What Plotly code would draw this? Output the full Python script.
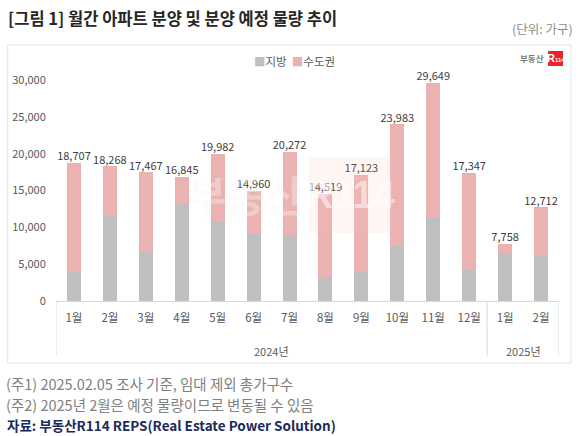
import plotly.graph_objects as go

# 월별 분양 물량 (가구)
months = ['1월', '2월', '3월', '4월', '5월', '6월', '7월', '8월', '9월', '10월', '11월', '12월', '1월', '2월']
years = ['2024년'] * 12 + ['2025년'] * 2
totals = [18707, 18268, 17467, 16845, 19982, 14960, 20272, 14519, 17123, 23983, 29649, 17347, 7758, 12712]
jibang = [4000, 11500, 6650, 13150, 10700, 9150, 8900, 3200, 3900, 7400, 11200, 4200, 6550, 6050]
sudogwon = [t - j for t, j in zip(totals, jibang)]

FONT = 'Noto Sans CJK KR'
GREY, PINK = '#bfbfbf', '#ebb2b2'
W, H = 580, 436
L, R, T, B = 54, 21, 80, 135


def px(x):
    return (x - L) / (W - L - R)


def py(y):
    return (H - B - y) / (H - T - B)


xs = list(range(len(months)))

fig = go.Figure()
fig.add_trace(go.Bar(x=xs, y=jibang, name='지방', marker=dict(color=GREY, line=dict(width=0))))
fig.add_trace(go.Bar(x=xs, y=sudogwon, name='수도권', marker=dict(color=PINK, line=dict(width=0))))
fig.add_trace(go.Scatter(
    x=xs, y=totals, mode='text', text=[f'{v:,}' for v in totals],
    textposition='top center', textfont=dict(size=11, color='#404040', family=FONT),
    showlegend=False, hoverinfo='skip', cliponaxis=False))

fig.update_layout(
    width=W, height=H,
    margin=dict(l=L, r=R, t=T, b=B),
    barmode='stack', bargap=0.61,
    paper_bgcolor='white', plot_bgcolor='white',
    font=dict(family=FONT, color='#595959', size=11),
    showlegend=False,
    xaxis=dict(range=[-0.5, len(months) - 0.5], tickmode='array', tickvals=xs, ticktext=months,
               showline=True, linecolor='#d9d9d9', linewidth=1, showgrid=False, zeroline=False,
               ticks='outside', ticklen=6, tickcolor='rgba(0,0,0,0)',
               tickfont=dict(size=11.5, color='#595959')),
    yaxis=dict(range=[0, 30000], tickvals=[0, 5000, 10000, 15000, 20000, 25000, 30000],
               tickformat=',', showgrid=False, zeroline=False, showline=False,
               ticks='outside', ticklen=7, tickcolor='rgba(0,0,0,0)',
               tickfont=dict(size=11, color='#595959')),
)

shapes = []
# chart box
shapes.append(dict(type='rect', xref='paper', yref='paper', x0=px(5.5), x1=px(571), y0=py(363), y1=py(45),
                   line=dict(color='#e3e3e3', width=1), fillcolor='rgba(0,0,0,0)', layer='below'))
# year group dividers
for xv in [-0.5, 11.5, len(months) - 0.5]:
    shapes.append(dict(type='line', xref='x', yref='paper', x0=xv, x1=xv, y0=py(301), y1=py(356),
                       line=dict(color='#d9d9d9', width=1)))
# watermark box
shapes.append(dict(type='rect', xref='paper', yref='paper', x0=px(308), x1=px(392), y0=py(233), y1=py(157),
                   line=dict(width=0), fillcolor='rgba(255,185,185,0.15)', layer='above'))
# logo box
shapes.append(dict(type='rect', xref='paper', yref='paper', x0=px(548), x1=px(563), y0=py(66), y1=py(51),
                   line=dict(width=0), fillcolor='#e8232e', layer='above'))
fig.update_layout(shapes=shapes)

ann = []
# year labels
for yr in ['2024년', '2025년']:
    idx = [i for i, v in enumerate(years) if v == yr]
    ann.append(dict(x=(idx[0] + idx[-1]) / 2, y=py(351), xref='x', yref='paper', text=yr,
                    showarrow=False, font=dict(size=11, color='#595959'), yanchor='middle'))
legend_text = (f'<span style="color:{GREY}">■</span>지방  '
               f'<span style="color:{PINK}">■</span>수도권')
ann += [
    dict(x=px(293), y=py(61), xref='paper', yref='paper', xanchor='center', yanchor='middle', showarrow=False,
         text=legend_text, font=dict(size=11.5, color='#595959')),
    dict(x=px(4), y=py(18), xref='paper', yref='paper', xanchor='left', yanchor='middle', showarrow=False,
         text='<b>[그림 1] 월간 아파트 분양 및 분양 예정 물량 추이</b>', font=dict(size=16.5, color='#262626')),
    dict(x=px(575), y=py(29), xref='paper', yref='paper', xanchor='right', yanchor='middle', showarrow=False,
         text='(단위: 가구)', font=dict(size=12.5, color='#8c8c8c')),
    dict(x=px(2), y=py(383), xref='paper', yref='paper', xanchor='left', yanchor='middle', showarrow=False,
         text='(주1) 2025.02.05 조사 기준, 임대 제외 총가구수', font=dict(size=14.5, color='#7f7f7f')),
    dict(x=px(2), y=py(404), xref='paper', yref='paper', xanchor='left', yanchor='middle', showarrow=False,
         text='(주2) 2025년 2월은 예정 물량이므로 변동될 수 있음', font=dict(size=14.5, color='#7f7f7f')),
    dict(x=px(3), y=py(425), xref='paper', yref='paper', xanchor='left', yanchor='middle', showarrow=False,
         text='<b>자료: 부동산R114 REPS(Real Estate Power Solution)</b>', font=dict(size=13.5, color='#1b2a5c')),
    # logo
    dict(x=px(546), y=py(58.5), xref='paper', yref='paper', xanchor='right', yanchor='middle', showarrow=False,
         text='<b>부동산</b>', font=dict(size=8.5, color='#7a7a7a')),
    dict(x=px(555.5), y=py(58.5), xref='paper', yref='paper', xanchor='center', yanchor='middle', showarrow=False,
         text='<b>R<span style="font-size:6px">114</span></b>',
         font=dict(size=11, color='white', family='Liberation Sans')),
    # watermark
    dict(x=px(245), y=py(193), xref='paper', yref='paper', xanchor='center', yanchor='middle', showarrow=False,
         text='<b>부동산</b>', font=dict(size=42, color='rgba(248,248,248,0.4)')),
    dict(x=px(350), y=py(195), xref='paper', yref='paper', xanchor='center', yanchor='middle', showarrow=False,
         text='<b>R114</b>', font=dict(size=38, color='rgba(255,255,255,0.5)', family='Liberation Sans')),
]
fig.update_layout(annotations=ann)

fig.write_html('out.html', config={'displayModeBar': False},
               post_script="document.body.style.margin='0';")
